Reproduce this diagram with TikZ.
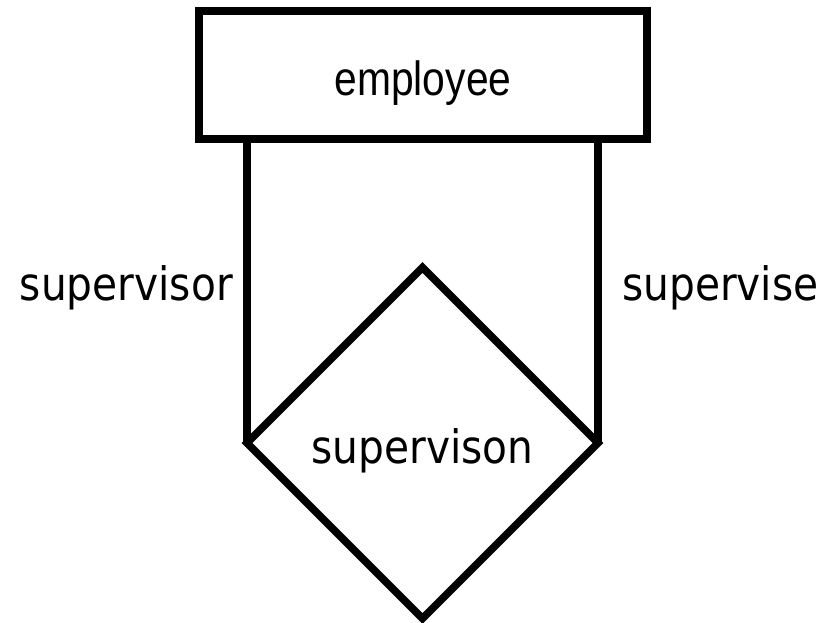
\documentclass[tikz,border=0pt]{standalone}
\usepackage{fontspec}
\setmainfont{Liberation Sans}
\newfontfamily\entityfont{Liberation Sans}[FakeStretch=0.85]
\newfontfamily\rolefont{DejaVu Sans}[FakeStretch=0.885]
\usetikzlibrary{shapes.geometric}
\begin{document}
\begin{tikzpicture}[x=1pt,y=-1pt,
  er/.style={draw=black,line width=7.5pt},
  entitybox/.style={er,rectangle,inner sep=0pt,outer sep=0pt,
    minimum width=448pt,text height=85pt,text depth=43pt,
    font=\entityfont\fontsize{48}{56}\selectfont},
  relbox/.style={er,diamond,aspect=1,inner sep=0pt,outer sep=0pt,
    minimum width=351pt,minimum height=351pt},
  roletext/.style={inner sep=0pt,font=\rolefont\fontsize{46}{54}\selectfont},
  link/.style={line width=7.5pt}]
  \useasboundingbox (0,0) rectangle (825,623);

  % entity and relationship
  \node[entitybox] (emp) at (423,75) {employee};
  \node[relbox] (rel) at (422.5,443) {};
  \node[roletext,anchor=base] (reltext) at (422.5,463) {supervison};

  % the two roles of the recursive relationship
  \draw[link] (rel.west) -- (rel.west |- emp.south);
  \draw[link] (rel.east) -- (rel.east |- emp.south);

  \node[roletext,anchor=base east] (rolea) at (233,300) {supervisor};
  \node[roletext,anchor=base west] (roleb) at (622,300) {supervise};
\end{tikzpicture}
\end{document}
